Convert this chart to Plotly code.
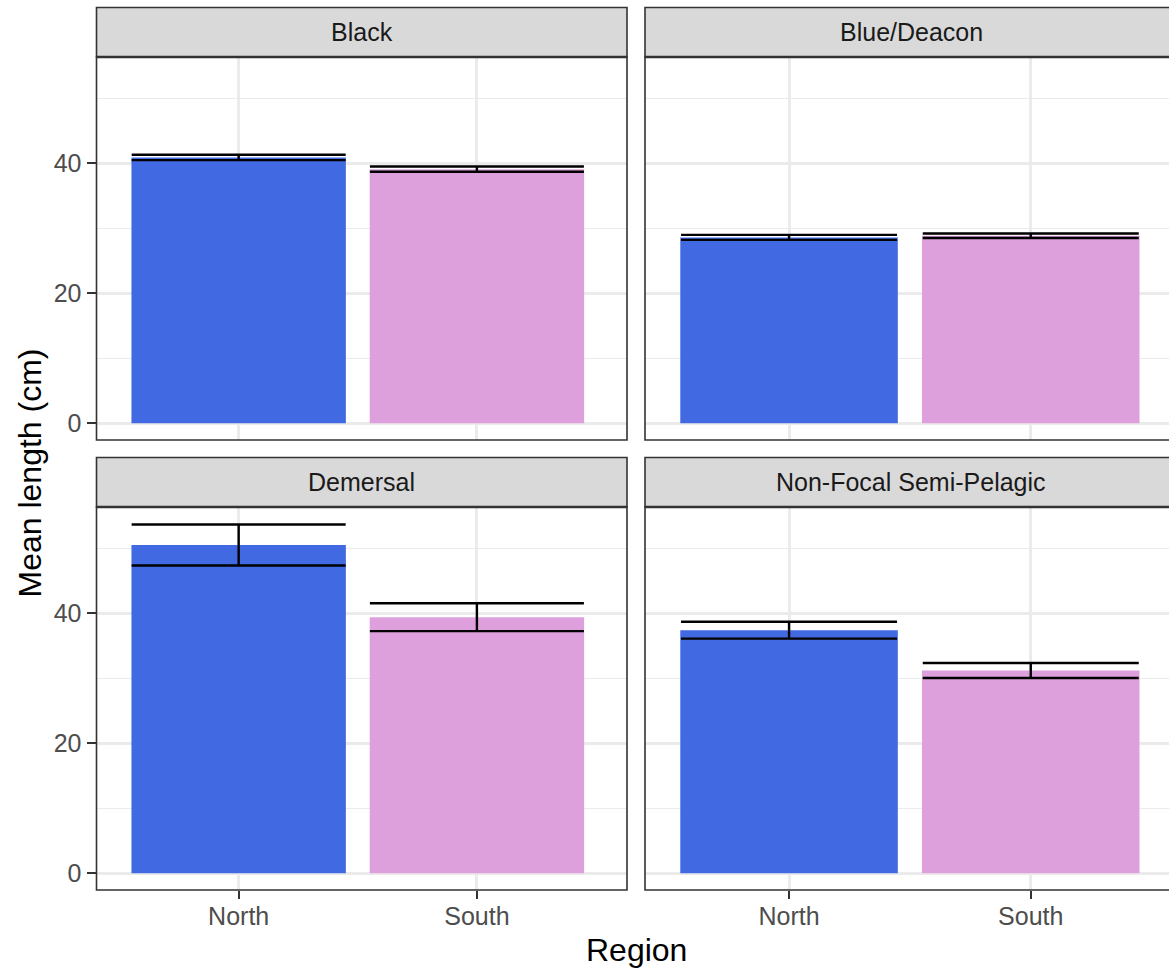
import plotly.graph_objects as go

# ---- data -------------------------------------------------------------
species = ["Black", "Blue/Deacon", "Demersal", "Non-Focal Semi-Pelagic"]
regions = ["North", "South"]
north_mean = [40.9, 28.6, 50.5, 37.4]
south_mean = [39.1, 28.85, 39.4, 31.2]
north_se = [0.42, 0.38, 3.15, 1.3]
south_se = [0.4, 0.35, 2.15, 1.15]
y_ticks = [0, 20, 40]
y_minor = [10, 30, 50]

# ---- styling ----------------------------------------------------------
W, H = 1169, 972
FONT = "Liberation Sans, Arial, sans-serif"
COL_NORTH = "#4169E1"
COL_SOUTH = "#DDA0DD"
GRID = "#EBEBEB"
BORDER = "#333333"
STRIP_FILL = "#D9D9D9"
TICK_SIZE = 25
TITLE_SIZE = 32


def px(x):
    return x / W


def py(y):
    return 1 - y / H


# panel geometry in pixels: (left, right, top, bottom) of the plotting area
panels = [
    (96.5, 627.0, 57.0, 440.0),
    (645.0, 1177.0, 57.0, 440.0),
    (96.5, 627.0, 507.0, 890.0),
    (645.0, 1177.0, 507.0, 890.0),
]
# category axes are 0-based (North = 0, South = 1)
x_ranges = [[-0.5967, 1.63], [-0.596, 1.572], [-0.5967, 1.63], [-0.596, 1.572]]
y_range = [-2.57, 56.35]
err_half_width = [107, 108, 107, 108]
STRIP_H = 49.5

fig = go.Figure()
layout_axes = {}
shapes = []
annotations = []

for i, sp in enumerate(species):
    n = "" if i == 0 else str(i + 1)
    xa, ya = "x" + n, "y" + n
    left, right, top, bottom = panels[i]
    row, col = divmod(i, 2)
    for reg, mean, se, colr in (
        ("North", north_mean[i], north_se[i], COL_NORTH),
        ("South", south_mean[i], south_se[i], COL_SOUTH),
    ):
        fig.add_trace(
            go.Bar(
                x=[reg],
                y=[mean],
                width=0.9,
                marker=dict(color=colr, line=dict(width=0)),
                error_y=dict(
                    type="data",
                    array=[se],
                    visible=True,
                    color="black",
                    thickness=2.4,
                    width=err_half_width[i],
                ),
                xaxis=xa,
                yaxis=ya,
                showlegend=False,
                hovertemplate=f"{sp}<br>{reg}: %{{y:.1f}} cm<extra></extra>",
            )
        )

    bottom_row = row == 1
    left_col = col == 0
    layout_axes["xaxis" + n] = dict(
        domain=[px(left), min(px(right), 1.0)],
        anchor=ya,
        type="category",
        categoryorder="array",
        categoryarray=regions,
        range=x_ranges[i],
        showgrid=True,
        gridcolor=GRID,
        gridwidth=2.5,
        showline=False,
        zeroline=False,
        ticks="outside" if bottom_row else "",
        ticklen=8,
        tickwidth=2.2,
        tickcolor=BORDER,
        ticklabelstandoff=-4,
        showticklabels=bottom_row,
        tickfont=dict(family=FONT, size=TICK_SIZE, color="#4D4D4D"),
    )
    layout_axes["yaxis" + n] = dict(
        domain=[py(bottom), py(top)],
        anchor=xa,
        range=y_range,
        tickvals=y_ticks,
        showgrid=True,
        gridcolor=GRID,
        gridwidth=2.5,
        minor=dict(tickvals=y_minor, showgrid=True, gridcolor=GRID, gridwidth=1.3),
        showline=False,
        zeroline=False,
        ticks="outside" if left_col else "",
        ticklen=9,
        tickwidth=2.2,
        tickcolor=BORDER,
        showticklabels=left_col,
        tickfont=dict(family=FONT, size=TICK_SIZE, color="#4D4D4D"),
    )

    # panel border
    shapes.append(
        dict(
            type="rect", xref="paper", yref="paper",
            x0=px(left), x1=px(right), y0=py(bottom), y1=py(top),
            line=dict(color=BORDER, width=1.6), fillcolor="rgba(0,0,0,0)",
            layer="above",
        )
    )
    # facet strip
    shapes.append(
        dict(
            type="rect", xref="paper", yref="paper",
            x0=px(left), x1=px(right), y0=py(top), y1=py(top - STRIP_H),
            line=dict(color=BORDER, width=1.6), fillcolor=STRIP_FILL,
            layer="above",
        )
    )
    # darker rule where the strip meets the panel
    shapes.append(
        dict(
            type="line", xref="paper", yref="paper",
            x0=px(left), x1=px(right), y0=py(top), y1=py(top),
            line=dict(color=BORDER, width=2.6), layer="above",
        )
    )
    annotations.append(
        dict(
            text=sp, xref="paper", yref="paper",
            x=px((left + right) / 2), y=py(top - STRIP_H / 2),
            xanchor="center", yanchor="middle", showarrow=False,
            font=dict(family=FONT, size=TICK_SIZE, color="#1A1A1A"),
        )
    )

# axis titles
annotations.append(
    dict(
        text="Region", xref="paper", yref="paper",
        x=px((96.5 + 1177) / 2), y=py(950), xanchor="center", yanchor="middle",
        showarrow=False, font=dict(family=FONT, size=TITLE_SIZE, color="black"),
    )
)
annotations.append(
    dict(
        text="Mean length (cm)", xref="paper", yref="paper",
        x=px(29), y=py(473.5), xanchor="center", yanchor="middle", textangle=-90,
        showarrow=False, font=dict(family=FONT, size=TITLE_SIZE, color="black"),
    )
)

fig.update_layout(
    width=W,
    height=H,
    margin=dict(l=0, r=0, t=0, b=0),
    paper_bgcolor="white",
    plot_bgcolor="white",
    barmode="group",
    shapes=shapes,
    annotations=annotations,
    **layout_axes,
)

fig.write_html("out.html")
